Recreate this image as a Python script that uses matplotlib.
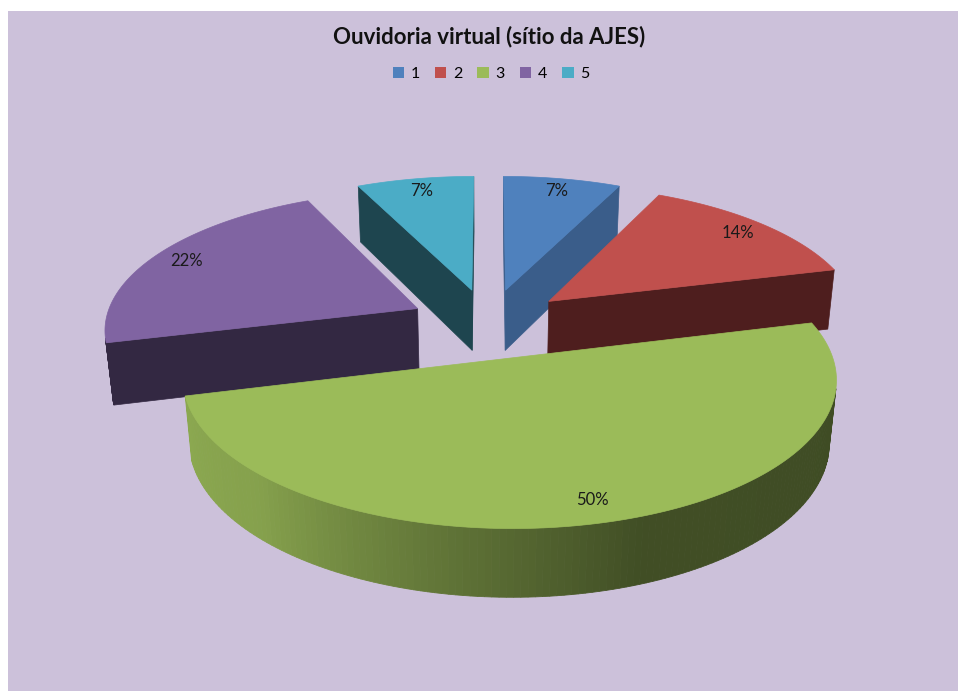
import numpy as np
import matplotlib
matplotlib.use('Agg')
import matplotlib.pyplot as plt
from matplotlib.patches import Polygon, Rectangle, Patch

# ---- data ----
values = [7, 14, 50, 22, 7]
legend_labels = ['1', '2', '3', '4', '5']
pct_labels = ['7%', '14%', '50%', '22%', '7%']
title = 'Ouvidoria virtual (sítio da AJES)'

# ---- styles ----
top_cols = ['#4F81BD', '#C0504D', '#9BBB59', '#8064A2', '#4BACC6']
side_cols = ['#3A5D8A', '#4E1E1E', '#4A5A2A', '#332842', '#1E454F']
bg_col = '#CCC1DA'

# 3D view (perspective camera) parameters
PHI, DIST, FOC, THICK, EXPL = 0.5366, 6.5433, 1825.28, 0.2515, 0.2546
CX, CY, ASP = 488.7, 384.7, 1.10
LAB_R = 0.88

fr = np.array(values, dtype=float) / sum(values)
cum = np.concatenate([[0], np.cumsum(fr)]) * 360
a0s, a1s = cum[:-1], cum[1:]
mids = (a0s + a1s) / 2


def proj(X, Y, Z):
    depth = DIST + Y * np.cos(PHI) - Z * np.sin(PHI)
    xs = FOC * X / depth * ASP
    ys = FOC * (Y * np.sin(PHI) + Z * np.cos(PHI)) / depth
    return CX + xs, CY - ys


cam = np.array([0, -DIST * np.cos(PHI), DIST * np.sin(PHI)])


def visible(n, pt):
    return np.dot(n, cam - pt) > 0


def green_shade(t):
    return np.interp(t, [75, 160, 190, 225, 256], [0.40, 0.42, 0.62, 0.86, 0.90])


fig = plt.figure(figsize=(9.58, 6.91), dpi=100)
fig.patch.set_facecolor('white')
ax = fig.add_axes([0, 0, 1, 1])
ax.set_xlim(0, 958)
ax.set_ylim(691, 0)
ax.axis('off')
ax.add_patch(Rectangle((8, 11), 958, 691, facecolor=bg_col, edgecolor='none'))

h = THICK
d = EXPL
order = sorted(range(len(values)), key=lambda i: -np.cos(np.radians(mids[i])))
for i in order:
    a0, a1, m = a0s[i], a1s[i], np.radians(mids[i])
    ox, oy = d * np.sin(m), d * np.cos(m)
    th = np.linspace(a0, a1, 160)
    t = np.radians(th)
    Xa, Ya = ox + np.sin(t), oy + np.cos(t)
    xt, yt = proj(Xa, Ya, h)
    xb, yb = proj(Xa, Ya, 0)
    axt, ayt = proj(ox, oy, h)
    axb, ayb = proj(ox, oy, 0)
    # radial walls
    for ang, sign in ((a0, -1), (a1, 1)):
        ta = np.radians(ang)
        n = np.array([sign * np.cos(ta), -sign * np.sin(ta), 0])
        pt = np.array([ox + 0.5 * np.sin(ta), oy + 0.5 * np.cos(ta), h / 2])
        if visible(n, pt):
            ex, ey = ox + np.sin(ta), oy + np.cos(ta)
            ext, eyt = proj(ex, ey, h)
            exb, eyb = proj(ex, ey, 0)
            ax.add_patch(Polygon([(axt, ayt), (ext, eyt), (exb, eyb), (axb, ayb)], closed=True,
                                 facecolor=side_cols[i], edgecolor=side_cols[i], lw=0.5))
    # outer curved wall
    base = np.array(matplotlib.colors.to_rgb(top_cols[i]))
    for j in range(len(th) - 1):
        tm = 0.5 * (t[j] + t[j + 1])
        n = np.array([np.sin(tm), np.cos(tm), 0])
        pt = np.array([ox + np.sin(tm), oy + np.cos(tm), h / 2])
        if visible(n, pt):
            if i == 2:
                col = tuple(base * green_shade(np.degrees(tm)))
            else:
                col = side_cols[i]
            ax.add_patch(Polygon([(xt[j], yt[j]), (xt[j + 1], yt[j + 1]),
                                  (xb[j + 1], yb[j + 1]), (xb[j], yb[j])],
                                 closed=True, facecolor=col, edgecolor=col, lw=0.6))
    # top face
    ax.add_patch(Polygon(np.column_stack([np.r_[axt, xt], np.r_[ayt, yt]]), closed=True,
                         facecolor=top_cols[i], edgecolor=top_cols[i], lw=0.5))

# percentage labels
for i, lab in enumerate(pct_labels):
    m = np.radians(mids[i])
    lx, ly = proj((d + LAB_R) * np.sin(m), (d + LAB_R) * np.cos(m), h)
    ax.text(lx, ly, lab, ha='center', va='center', fontsize=12, family='Lato', color='#1A1A1A')

ax.text(489, 37, title, ha='center', va='center', fontsize=16, fontweight='bold',
        family='Lato', color='#111111')

handles = [Patch(facecolor=c, edgecolor='none') for c in top_cols]
ax.legend(handles, legend_labels, loc='center', bbox_to_anchor=(491 / 958, 1 - 74 / 691),
          ncol=5, frameon=False, handlelength=0.72, handleheight=0.72,
          handletextpad=0.4, columnspacing=0.95, prop={'family': 'Lato', 'size': 11.5})

fig.savefig('out.png', dpi=100, facecolor='white')
